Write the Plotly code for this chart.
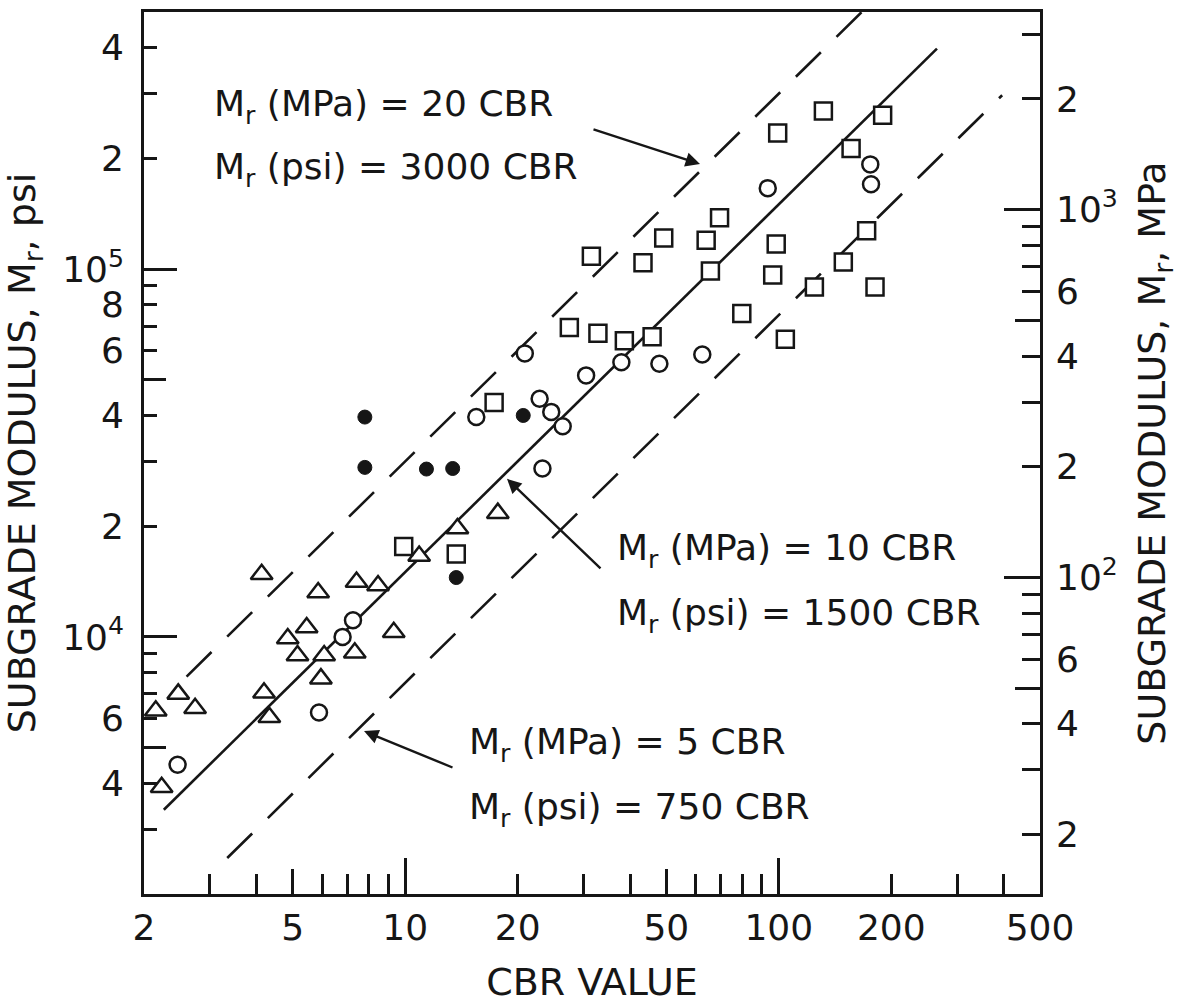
import math
import plotly.graph_objects as go

INK = "#161616"
FONT = "DejaVu Sans"
PSI_PER_MPA = 145.04

# ---------------- data (CBR, resilient modulus in psi) ----------------
tri_cbr = [4.13, 5.85, 7.41, 8.46, 5.45, 4.85, 9.32, 5.15, 6.07, 7.33, 5.95,
           2.47, 2.74, 2.15, 4.19, 4.33, 2.23, 17.7, 13.8, 10.9]
tri_psi = [14800, 13200, 14100, 13800, 10600, 9900, 10300, 8900, 8900, 9050, 7700,
           7000, 6400, 6300, 7050, 6050, 3900, 21700, 19700, 16600]

circ_cbr = [5.88, 2.46, 7.25, 6.80, 20.9, 15.5, 22.9, 24.6, 26.4, 30.5, 37.9,
            23.3, 62.4, 47.9, 93.4, 175.7, 176.5]
circ_psi = [6230, 4490, 11100, 10000, 59000, 39600, 44400, 40900, 37400, 51400, 55800,
            28700, 58600, 55300, 166000, 192600, 170000]

dot_cbr = [7.80, 20.7, 7.80, 11.4, 13.4, 13.7]
dot_psi = [39600, 40000, 28900, 28600, 28700, 14500]

sq_cbr = [9.91, 13.7, 17.3, 69.4, 49.2, 63.9, 31.5, 43.3, 98.4, 65.6, 96.3, 124.5,
          27.5, 32.8, 38.6, 45.8, 79.6, 104.1, 131.6, 99.3, 189.6, 156.1, 171.8,
          148.8, 180.9]
sq_psi = [17600, 16800, 43400, 138000, 121500, 119800, 108400, 104000, 117100, 98800,
          96300, 89400, 69400, 66900, 63900, 65500, 75700, 64500, 269000, 234600,
          261900, 212700, 127200, 104600, 89400]

# correlation lines Mr(psi) = k * CBR
line_k_psi = [3000, 1500, 750]
line_k_mpa = ["20", "10", "5"]
line_cbr_from = [2.6, 2.26, 3.34]
line_cbr_to = [167, 265, 396]
line_dash = ["35px,22px", "solid", "35px,22px"]

# axis ranges / ticks
x_range = [2, 500]
psi_range = [2000, 500000]
x_tickvals = [2, 5, 10, 20, 50, 100, 200, 500]
x_ticktext = ["2", "5", "10", "20", "50", "100", "200", "500"]
x_minor = [3, 4, 6, 7, 8, 9, 20, 30, 40, 60, 70, 80, 90, 200, 300, 400]
x_mid = [5, 50]
x_major = [10, 100]

yl_tickvals = [4e3, 6e3, 1e4, 2e4, 4e4, 6e4, 8e4, 1e5, 2e5, 4e5]
yl_ticktext = ["4", "6", "10<sup>4</sup>", "2", "4", "6", "8", "10<sup>5</sup>", "2", "4"]
yl_minor = [3e3, 4e3, 6e3, 7e3, 8e3, 9e3, 2e4, 3e4, 4e4, 6e4, 7e4, 8e4, 9e4, 2e5, 3e5, 4e5]
yl_mid = [5e3, 5e4]
yl_major = [1e4, 1e5]

yr_tickvals = [20, 40, 60, 100, 200, 400, 600, 1000, 2000]
yr_ticktext = ["2", "4", "6", "10<sup>2</sup>", "2", "4", "6", "10<sup>3</sup>", "2"]
yr_minor = [20, 30, 40, 60, 70, 80, 90, 200, 300, 400, 600, 700, 800, 900, 2000, 3000]
yr_mid = [50, 500]
yr_major = [100, 1000]

# ---------------- layout geometry ----------------
W, H = 1193, 1006
L, R, T, B = 144, 153, 9, 109
PW, PH = W - L - R, H - T - B


def px(xp):
    return (xp - L) / PW


def py(yp):
    return (T + PH - yp) / PH


lg = math.log10
fig = go.Figure()

for k, lo, hi, dash in zip(line_k_psi, line_cbr_from, line_cbr_to, line_dash):
    fig.add_trace(go.Scatter(x=[lo, hi], y=[k * lo, k * hi], mode="lines",
                             line=dict(color=INK, width=2.6, dash=dash),
                             hoverinfo="skip", showlegend=False))

mk_line = dict(color=INK, width=2.5)
fig.add_trace(go.Scatter(x=tri_cbr, y=tri_psi, mode="markers", showlegend=False,
                         marker=dict(symbol="triangle-up", size=19, color="white", line=mk_line)))
fig.add_trace(go.Scatter(x=circ_cbr, y=circ_psi, mode="markers", showlegend=False,
                         marker=dict(symbol="circle", size=16, color="white", line=mk_line)))
fig.add_trace(go.Scatter(x=sq_cbr, y=sq_psi, mode="markers", showlegend=False,
                         marker=dict(symbol="square", size=17, color="white", line=mk_line)))
fig.add_trace(go.Scatter(x=dot_cbr, y=dot_psi, mode="markers", showlegend=False,
                         marker=dict(symbol="circle", size=14, color=INK, line=dict(color=INK, width=1))))

# transparent copies of the middle correlation line bind the secondary (tick / MPa) axes
k_mid, lo_mid, hi_mid = line_k_psi[1], line_cbr_from[1], line_cbr_to[1]
for xa, ya, scale in [("x2", "y", 1.0), ("x", "y3", 1.0),
                      ("x", "y2", 1.0 / PSI_PER_MPA), ("x", "y4", 1.0 / PSI_PER_MPA)]:
    fig.add_trace(go.Scatter(x=[lo_mid, hi_mid], y=[k_mid * lo_mid * scale, k_mid * hi_mid * scale],
                             xaxis=xa, yaxis=ya, mode="lines", opacity=0,
                             line=dict(color=INK, width=1), hoverinfo="skip", showlegend=False))

tickfont = dict(family=FONT, size=36, color=INK)
titlefont = dict(family=FONT, size=38, color=INK)

xr = [lg(x_range[0]), lg(x_range[1])]
yr_psi = [lg(psi_range[0]), lg(psi_range[1])]
yr_mpa = [lg(psi_range[0] / PSI_PER_MPA), lg(psi_range[1] / PSI_PER_MPA)]


def tick_axis(vals_main, len_main, vals_minor, len_minor):
    return dict(tickmode="array", tickvals=vals_main, ticks="inside", ticklen=len_main,
                tickwidth=2.5, tickcolor=INK, showticklabels=False, showgrid=False,
                zeroline=False, showline=False,
                minor=dict(tickmode="array", tickvals=vals_minor, ticks="inside",
                           ticklen=len_minor, tickwidth=2.5, tickcolor=INK, showgrid=False))


fig.update_layout(
    width=W, height=H, margin=dict(l=L, r=R, t=T, b=B),
    paper_bgcolor="white", plot_bgcolor="white", showlegend=False,
    font=dict(family=FONT, color=INK),
    xaxis=dict(type="log", range=xr, tickmode="array", tickvals=x_tickvals, ticktext=x_ticktext,
               ticks="", tickfont=tickfont, ticklabelstandoff=0,
               showline=True, linewidth=2.6, linecolor=INK, mirror=True,
               showgrid=False, zeroline=False,
               minor=dict(tickmode="array", tickvals=x_minor, ticks="inside", ticklen=20,
                          tickwidth=2.5, tickcolor=INK, showgrid=False),
               title=dict(text="CBR VALUE", font=titlefont, standoff=22)),
    xaxis2=dict(type="log", range=xr, overlaying="x", anchor="y", side="bottom",
                **tick_axis(x_mid, 25, x_major, 36)),
    yaxis=dict(type="log", range=yr_psi, tickmode="array", tickvals=yl_tickvals, ticktext=yl_ticktext,
               ticks="", tickfont=tickfont, ticklabelstandoff=10,
               showline=True, linewidth=2.6, linecolor=INK, mirror=True,
               showgrid=False, zeroline=False,
               minor=dict(tickmode="array", tickvals=yl_minor, ticks="inside", ticklen=13,
                          tickwidth=2.5, tickcolor=INK, showgrid=False),
               title=dict(text="SUBGRADE MODULUS, M<sub>r</sub>, psi", font=titlefont, standoff=22)),
    yaxis3=dict(type="log", range=yr_psi, overlaying="y", anchor="x", side="left",
                **tick_axis(yl_mid, 22, yl_major, 33)),
    yaxis2=dict(type="log", range=yr_mpa, overlaying="y", anchor="x", side="right",
                tickmode="array", tickvals=yr_tickvals, ticktext=yr_ticktext,
                ticks="", tickfont=tickfont, ticklabelstandoff=6,
                showline=True, linewidth=2.6, linecolor=INK,
                showgrid=False, zeroline=False,
                minor=dict(tickmode="array", tickvals=yr_minor, ticks="inside", ticklen=18,
                           tickwidth=2.5, tickcolor=INK, showgrid=False),
                title=dict(text="SUBGRADE MODULUS, M<sub>r</sub>, MPa", font=titlefont, standoff=22)),
    yaxis4=dict(type="log", range=yr_mpa, overlaying="y", anchor="x", side="right",
                **tick_axis(yr_mid, 25, yr_major, 36)),
)

# equation labels (pixel positions of text left edge / middle)
label_pos = [((212, 104), (212, 168)), ((615, 551), (615, 617)), ((467, 746), (467, 812))]
annfont = dict(family=FONT, size=36, color=INK)
for (p1, p2), kmpa, kpsi in zip(label_pos, line_k_mpa, line_k_psi):
    fig.add_annotation(x=px(p1[0]), y=py(p1[1]), xref="paper", yref="paper",
                       text=f"M<sub>r</sub> (MPa) = {kmpa} CBR", showarrow=False,
                       xanchor="left", yanchor="middle", font=annfont)
    fig.add_annotation(x=px(p2[0]), y=py(p2[1]), xref="paper", yref="paper",
                       text=f"M<sub>r</sub> (psi) = {kpsi} CBR", showarrow=False,
                       xanchor="left", yanchor="middle", font=annfont)

# arrows: (tip, tail) in pixels
arrows = [((700, 162), (592, 127)), ((507, 479), (602, 570)), ((364, 733), (454, 770))]
for tip, tail in arrows:
    fig.add_annotation(x=px(tip[0]), y=py(tip[1]), xref="paper", yref="paper",
                       ax=tail[0] - tip[0], ay=tail[1] - tip[1], text="",
                       showarrow=True, arrowhead=2, arrowsize=1.2, arrowwidth=2.4,
                       arrowcolor=INK)

fig.write_html("out.html")
